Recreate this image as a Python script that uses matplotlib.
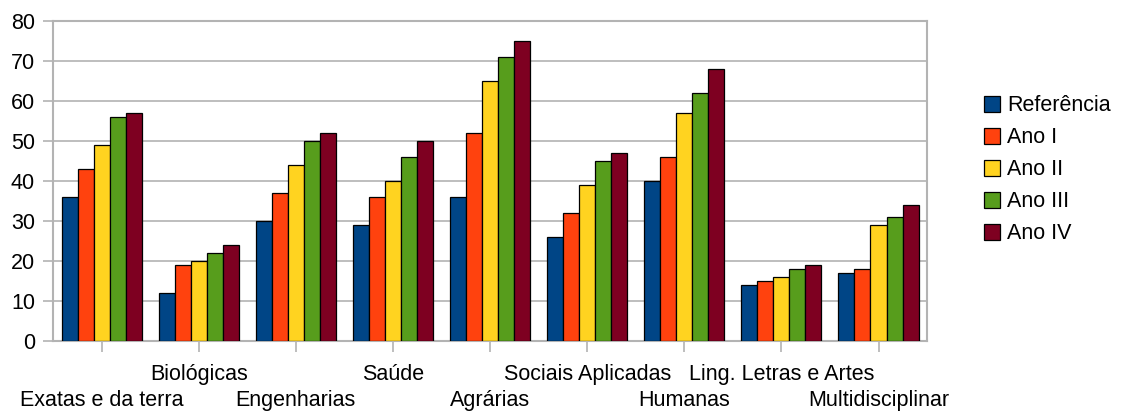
import matplotlib
matplotlib.use("Agg")
import matplotlib.pyplot as plt
import numpy as np

plt.rcParams["font.family"] = ["Liberation Sans", "DejaVu Sans"]

categories = [
    "Exatas e da terra", "Biológicas", "Engenharias", "Saúde", "Agrárias",
    "Sociais Aplicadas", "Humanas", "Ling. Letras e Artes", "Multidisciplinar",
]
series_names = ["Referência", "Ano I", "Ano II", "Ano III", "Ano IV"]
referencia = [36, 12, 30, 29, 36, 26, 40, 14, 17]
ano_1 = [43, 19, 37, 36, 52, 32, 46, 15, 18]
ano_2 = [49, 20, 44, 40, 65, 39, 57, 16, 29]
ano_3 = [56, 22, 50, 46, 71, 45, 62, 18, 31]
ano_4 = [57, 24, 52, 50, 75, 47, 68, 19, 34]
y_ticks = [0, 10, 20, 30, 40, 50, 60, 70, 80]

colors = ["#004586", "#ff420e", "#ffd320", "#579d1c", "#7e0021"]
grid_gray = "#b3b3b3"
fs = 15.5

fig = plt.figure(figsize=(11.21, 4.16), dpi=100)
ax = fig.add_axes([0.0473, 0.1803, 0.7797, 0.7692])

x = np.arange(len(categories))
width = 0.165
all_series = [referencia, ano_1, ano_2, ano_3, ano_4]
handles = []
for i, (name, vals) in enumerate(zip(series_names, all_series)):
    offset = (i - 2) * width
    bars = ax.bar(x + offset, vals, width, color=colors[i], edgecolor="black",
                  linewidth=0.9, label=name, zorder=3)
    handles.append(bars)

ax.set_xlim(-0.5, len(categories) - 0.5)
ax.set_ylim(0, 80)
ax.set_yticks(y_ticks)
ax.yaxis.grid(True, color=grid_gray, linewidth=1.2, zorder=0)
ax.set_axisbelow(True)

# staggered category labels: even indices on the lower row (major ticks),
# odd indices on the upper row (minor ticks)
ax.set_xticks(x[::2])
ax.set_xticklabels(categories[::2], fontsize=fs)
ax.set_xticks(x[1::2], minor=True)
ax.set_xticklabels(categories[1::2], minor=True, fontsize=fs)
ax.tick_params(axis="x", which="major", length=8, width=1.2, color=grid_gray, pad=27.5)
ax.tick_params(axis="x", which="minor", length=8, width=1.2, color=grid_gray, pad=8.5)
ax.tick_params(axis="y", length=7, width=1.2, color=grid_gray, pad=6, labelsize=fs)

for side in ["left", "right", "bottom", "top"]:
    ax.spines[side].set_color(grid_gray)
    ax.spines[side].set_linewidth(1.5)

fig.legend(handles=handles, labels=series_names, loc="upper left",
           bbox_to_anchor=(0.8774, 0.771), frameon=False, fontsize=fs,
           handlelength=0.78, handleheight=0.78, handletextpad=0.33,
           labelspacing=0.51, borderaxespad=0, borderpad=0)

fig.savefig("out.png", dpi=100)
